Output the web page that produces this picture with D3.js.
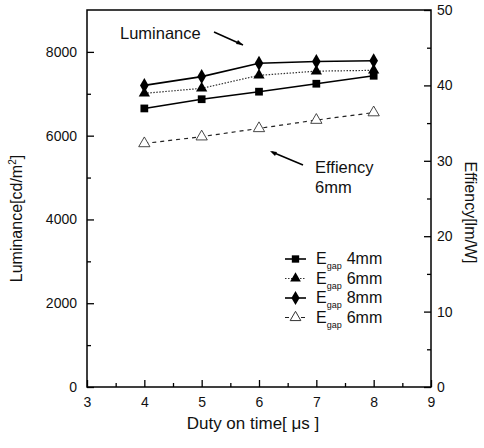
<!DOCTYPE html>
<html>
<head>
<meta charset="utf-8">
<script src="https://cdn.jsdelivr.net/npm/d3@7"></script>
<style>
  body { margin: 0; background: #fff; }
  text { font-family: "Liberation Sans", Arial, sans-serif; fill: #111; }
</style>
</head>
<body>
<div id="chart"></div>
<script>
// data
const duty = [4, 5, 6, 7, 8]
const lum4mm = [6650, 6870, 7050, 7240, 7430]
const lum6mm = [7010, 7130, 7440, 7540, 7560]
const lum8mm = [7200, 7410, 7730, 7770, 7790]
const eff6mm = [32.3, 33.2, 34.3, 35.4, 36.4]
const xTicks = [3, 4, 5, 6, 7, 8, 9]
const yLeftTicks = [0, 2000, 4000, 6000, 8000]
const yRightTicks = [0, 10, 20, 30, 40, 50]
const legendSizes = ["4mm", "6mm", "8mm", "6mm"]

// box
const margin = {top: 10, right: 53, bottom: 61, left: 87},
    width = 484 - margin.left - margin.right,
    height = 448 - margin.top - margin.bottom;

const svg = d3.select("#chart")
  .append("svg")
    .attr("width", 484)
    .attr("height", 448)
  .append("g")
    .attr("transform", `translate(${margin.left},${margin.top})`);

const x = d3.scaleLinear().domain([3, 9]).range([0, width])
const yL = d3.scaleLinear().domain([0, 9000]).range([height, 0])
const yR = d3.scaleLinear().domain([0, 50]).range([height, 0])

// frame
svg.append("rect")
  .attr("width", width).attr("height", height)
  .attr("fill", "none").attr("stroke", "#000").attr("stroke-width", 1.5)

// axes, ticks pointing inward
function styleAxis(g) {
  g.select(".domain").remove()
  g.selectAll("line").attr("stroke", "#000").attr("stroke-width", 1.3)
  g.selectAll("text").style("font-size", "14px")
}
// minor ticks first (no labels)
svg.append("g").attr("transform", `translate(0,${height})`)
  .call(d3.axisBottom(x).tickValues(d3.range(3.5, 9, 1)).tickSize(-4).tickFormat(""))
  .call(styleAxis)
svg.append("g").attr("transform", `translate(0,${height})`)
  .call(d3.axisBottom(x).tickValues(xTicks).tickSize(-7).tickPadding(10).tickFormat(d3.format("d")))
  .call(styleAxis)

svg.append("g")
  .call(d3.axisLeft(yL).tickValues([1000, 3000, 5000, 7000]).tickSize(-4).tickFormat(""))
  .call(styleAxis)
svg.append("g")
  .call(d3.axisLeft(yL).tickValues(yLeftTicks).tickSize(-7).tickPadding(10).tickFormat(d3.format("d")))
  .call(styleAxis)

svg.append("g").attr("transform", `translate(${width},0)`)
  .call(d3.axisRight(yR).tickValues([5, 15, 25, 35, 45]).tickSize(-4).tickFormat(""))
  .call(styleAxis)
svg.append("g").attr("transform", `translate(${width},0)`)
  .call(d3.axisRight(yR).tickValues(yRightTicks).tickSize(-7).tickPadding(6))
  .call(styleAxis)

// axis titles
svg.append("text")
  .attr("x", width / 2 - 6).attr("y", height + 42)
  .attr("text-anchor", "middle").style("font-size", "17px")
  .text("Duty on time[ \u03bcs ]")

const lt = svg.append("text")
  .attr("transform", `translate(${-65},${height / 2 + 20}) rotate(-90)`)
  .attr("text-anchor", "middle").style("font-size", "16px")
lt.append("tspan").text("Luminance[cd/m")
lt.append("tspan").attr("dy", -6).style("font-size", "10px").text("2")
lt.append("tspan").attr("dy", 6).text("]")

svg.append("text")
  .attr("transform", `translate(${width + 34},${height / 2 + 14}) rotate(90)`)
  .attr("text-anchor", "middle").style("font-size", "16px")
  .text("Effiency[lm/W]")

// series
const series = [
  {vals: lum4mm, scale: yL, dash: null, sym: d3.symbolSquare, size: 60, fill: "#000", color: "#000"},
  {vals: lum6mm, scale: yL, dash: "1.5,1.5", sym: d3.symbolTriangle, size: 55, fill: "#000", color: "#333"},
  {vals: lum8mm, scale: yL, dash: null, sym: d3.symbolDiamond, size: 65, fill: "#000", color: "#000"},
  {vals: eff6mm, scale: yR, dash: "4,4", sym: d3.symbolTriangle, size: 55, fill: "#fff", color: "#222"}
]

series.forEach(s => {
  const pts = duty.map((d, i) => [x(d), s.scale(s.vals[i])])
  svg.append("path")
    .attr("d", d3.line()(pts))
    .attr("fill", "none")
    .attr("stroke", s.color)
    .attr("stroke-width", s.dash ? 1.2 : 1.6)
    .attr("stroke-dasharray", s.dash)
  svg.selectAll(null)
    .data(pts)
    .join("path")
      .attr("transform", d => `translate(${d[0]},${d[1]})`)
      .attr("d", d3.symbol().type(s.sym).size(s.size))
      .attr("fill", s.fill)
      .attr("stroke", s.fill === "#fff" ? "#333" : "none")
      .attr("stroke-width", 0.9)
})

// annotations
svg.append("text").attr("x", 33).attr("y", 29).style("font-size", "16.5px").text("Luminance")
svg.append("line").attr("x1", 127).attr("y1", 22).attr("x2", 156).attr("y2", 35)
  .attr("stroke", "#000").attr("stroke-width", 1.5)
svg.append("path").attr("d", "M156,35 l-7,-1 l2,-4 z").attr("fill", "#000")

svg.append("line").attr("x1", 185).attr("y1", 142).attr("x2", 216).attr("y2", 155)
  .attr("stroke", "#000").attr("stroke-width", 1.5)
svg.append("path").attr("d", "M183,141 l7,1 l-2,4 z").attr("fill", "#000")
svg.append("text").attr("x", 228).attr("y", 163).style("font-size", "16.5px").text("Effiency")
svg.append("text").attr("x", 228).attr("y", 183).style("font-size", "16.5px").text("6mm")

// legend
const leg = svg.append("g").attr("transform", "translate(198,249)")
series.forEach((s, i) => {
  const row = leg.append("g").attr("transform", `translate(0,${i * 19.5})`)
  row.append("line").attr("x1", 0).attr("x2", 21).attr("y1", 0).attr("y2", 0)
    .attr("stroke", s.color).attr("stroke-width", s.dash ? 1.2 : 1.6)
    .attr("stroke-dasharray", s.dash)
  row.append("path").attr("transform", "translate(10.5,0)")
    .attr("d", d3.symbol().type(s.sym).size(s.size * 0.9))
    .attr("fill", s.fill).attr("stroke", s.fill === "#fff" ? "#333" : "none")
  const t = row.append("text").attr("x", 31).attr("y", 5).style("font-size", "16px")
  t.append("tspan").text("E")
  t.append("tspan").attr("dy", 5).style("font-size", "9px").text("gap")
  t.append("tspan").attr("dy", -5).attr("dx", 5).text(legendSizes[i])
})
</script>
</body>
</html>
